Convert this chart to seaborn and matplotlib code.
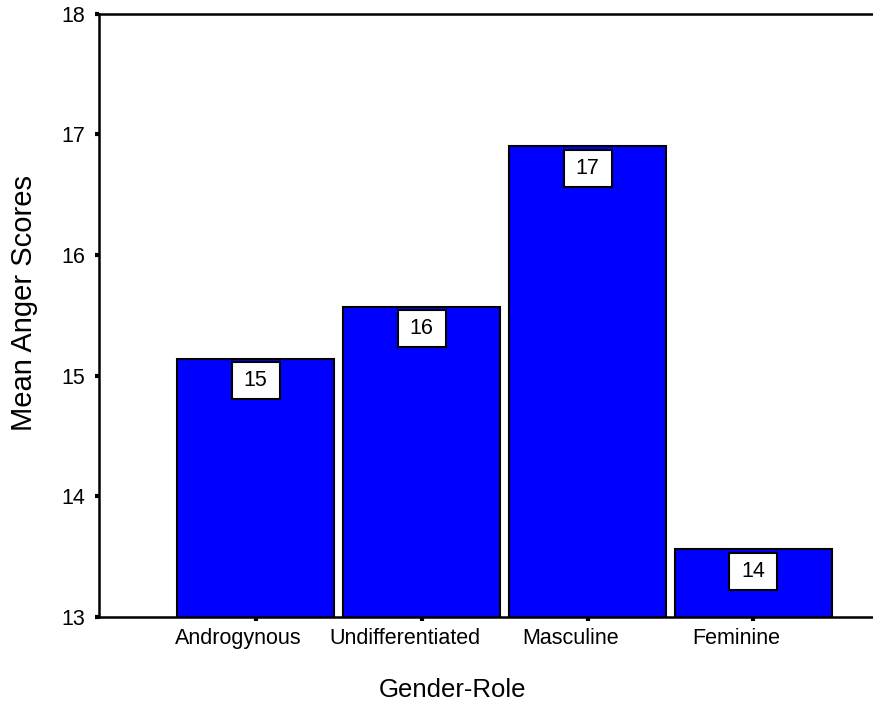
import matplotlib
matplotlib.use("Agg")
import matplotlib.pyplot as plt
from matplotlib.path import Path
from matplotlib.transforms import ScaledTranslation
import seaborn as sns
import pandas as pd

# Mean anger scores by gender-role group
categories = ["Androgynous", "Undifferentiated", "Masculine", "Feminine"]
mean_scores = [15.14, 15.57, 16.90, 13.56]
y_ticks = [13, 14, 15, 16, 17, 18]

sns.set_style("white")
plt.rcParams["font.family"] = ["Liberation Sans", "DejaVu Sans"]

df = pd.DataFrame({"Gender-Role": categories, "Mean Anger Scores": mean_scores})

DPI = 100
fig = plt.figure(figsize=(8.73, 7.23), dpi=DPI)
ax = fig.add_axes([0.1134, 0.1466, 0.8866, 0.8347])

sns.barplot(data=df, x="Gender-Role", y="Mean Anger Scores", color="#0000ff",
            saturation=1, edgecolor="black", linewidth=1.5, width=0.945, ax=ax)

ax.set_ylim(13, 18)
ax.set_xlim(-0.943, 3.72)
ax.set_yticks(y_ticks)
ax.set_yticklabels([str(t) for t in y_ticks])


def fixed_box(x0, y0, width, height, mutation_size):
    """Fixed-size rectangle (in pixels) centred on the text."""
    w, h = 48, 37
    cx, cy = x0 + width / 2, y0 + height / 2
    return Path([(cx - w / 2, cy - h / 2), (cx + w / 2, cy - h / 2),
                 (cx + w / 2, cy + h / 2), (cx - w / 2, cy + h / 2),
                 (cx - w / 2, cy - h / 2)], closed=True)


# value boxes just inside the top of each bar
for i, v in enumerate(mean_scores):
    ax.annotate(f"{round(v):d}", xy=(i, v), xytext=(0, -15.8), textcoords="offset points",
                ha="center", va="center", fontsize=15.5, color="black",
                bbox=dict(boxstyle=fixed_box, fc="white", ec="black", lw=1.5),
                annotation_clip=False)

for side in ["left", "top", "bottom"]:
    ax.spines[side].set_visible(True)
    ax.spines[side].set_color("black")
    ax.spines[side].set_linewidth(1.8)
ax.spines["right"].set_visible(False)

ax.tick_params(axis="both", which="major", direction="out", length=3, width=3,
               color="black", labelcolor="black")
ax.tick_params(axis="y", labelsize=15.5, pad=7, left=True)
ax.tick_params(axis="x", labelsize=15.5, pad=5, bottom=True)

# category labels sit slightly left of their tick marks
shift = ScaledTranslation(-17 / DPI, 0, fig.dpi_scale_trans)
for lbl in ax.get_xticklabels():
    lbl.set_transform(lbl.get_transform() + shift)

ax.set_xlabel("Gender-Role", fontsize=18.5, color="black")
ax.set_ylabel("Mean Anger Scores", fontsize=21, color="black")
ax.xaxis.set_label_coords(0.457, -0.121)
ax.yaxis.set_label_coords(-0.097, 0.52)
ax.xaxis.label.set_va("center")
ax.yaxis.label.set_va("center")

fig.savefig("out.png", dpi=DPI)
